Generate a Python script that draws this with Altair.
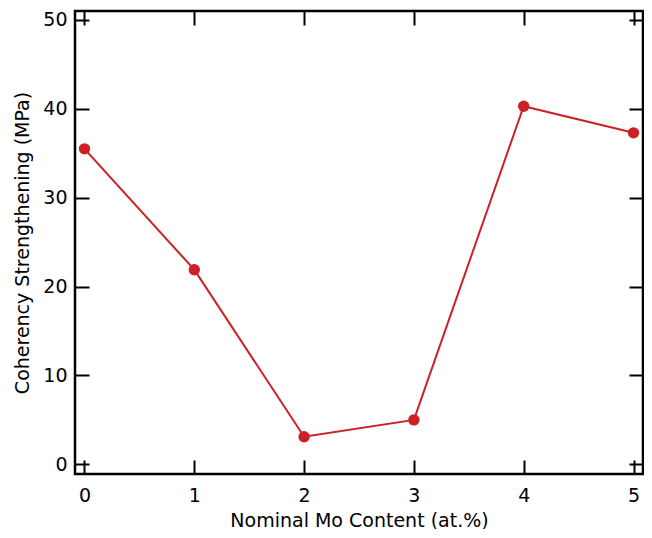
import altair as alt
import pandas as pd

mo_content = [0, 1, 2, 3, 4, 5]
coherency = [35.5, 21.9, 3.1, 5.0, 40.3, 37.3]
x_ticks = [0, 1, 2, 3, 4, 5]
y_ticks = [0, 10, 20, 30, 40, 50]

df = pd.DataFrame({"mo": mo_content, "cs": coherency})

RED = "#cc1f26"
FONT = "DejaVu Sans"
FS = 19
TICK = 14

xscale = alt.Scale(domain=[-0.0865, 5.0865], nice=False, zero=False)
yscale = alt.Scale(domain=[-1.09, 51.01], nice=False, zero=False)

base = alt.Chart(df)

main = base.mark_line(color=RED, strokeWidth=2).encode(
    x=alt.X("mo:Q", scale=xscale,
            axis=alt.Axis(orient="bottom", values=x_ticks, offset=-TICK, tickSize=TICK,
                          tickWidth=2, tickColor="black", domain=False, grid=False,
                          labelPadding=12, labelFontSize=FS, labelFont=FONT, labelColor="black",
                          title="Nominal Mo Content (at.%)", titleFont=FONT, titleFontSize=FS,
                          titleFontWeight="normal", titleColor="black", titlePadding=6,
                          format="d")),
    y=alt.Y("cs:Q", scale=yscale,
            axis=alt.Axis(orient="left", values=y_ticks, offset=-TICK, tickSize=TICK,
                          tickWidth=2, tickColor="black", domain=False, grid=False,
                          labelPadding=8, labelFontSize=FS, labelFont=FONT, labelColor="black",
                          title="Coherency Strengthening (MPa)", titleFont=FONT, titleFontSize=FS,
                          titleFontWeight="normal", titleColor="black", titlePadding=10,
                          format="d")),
)

pts = base.mark_circle(color=RED, size=130, opacity=1).encode(
    x=alt.X("mo:Q", scale=xscale,
            axis=alt.Axis(orient="top", values=x_ticks, offset=-TICK, tickSize=TICK,
                          tickWidth=2, tickColor="black", domain=False, grid=False,
                          labels=False, title=None)),
    y=alt.Y("cs:Q", scale=yscale,
            axis=alt.Axis(orient="right", values=y_ticks, offset=-TICK, tickSize=TICK,
                          tickWidth=2, tickColor="black", domain=False, grid=False,
                          labels=False, title=None)),
)

chart = alt.layer(main, pts).properties(
    width=568, height=463,
    autosize=alt.AutoSizeParams(type="none"),
    padding={"left": 67, "top": 3, "right": 1, "bottom": 55},
).configure_view(stroke="black", strokeWidth=2.5)

chart.save("out.html", embed_options={"renderer": "svg", "actions": False})
